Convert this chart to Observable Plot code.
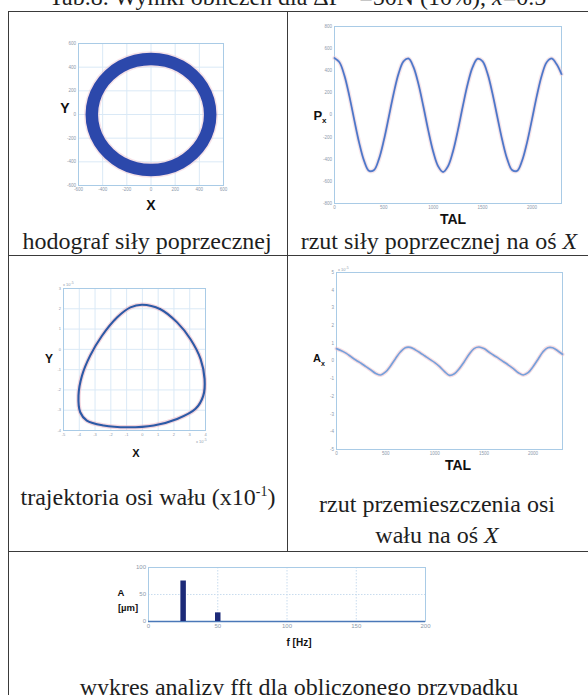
<!DOCTYPE html>
<html><head><meta charset="utf-8">
<script src="https://cdn.jsdelivr.net/npm/d3@7"></script>
<script src="https://cdn.jsdelivr.net/npm/@observablehq/plot@0.6"></script>
<style>
html,body{margin:0;padding:0;background:#fff;}
#page{position:relative;width:588px;height:695px;overflow:hidden;background:#fff;}
.abs{position:absolute;}
.hl{position:absolute;height:1.5px;background:#3a3a3a;}
.vl{position:absolute;width:1.5px;background:#3a3a3a;}
.cap{position:absolute;font-family:"Liberation Serif","Times New Roman",serif;font-size:24px;color:#1e1e1e;white-space:nowrap;transform:translateX(-50%);line-height:1;}
.lab{position:absolute;font-family:"Liberation Sans",Arial,sans-serif;font-weight:bold;color:#111;white-space:nowrap;transform:translate(-50%,-50%);line-height:1;}
.exp{position:absolute;font-family:"Liberation Sans",Arial,sans-serif;font-size:4px;color:#8d99ab;white-space:nowrap;}
</style></head>
<body><div id="page"></div>
<script>
// ---- data ----
// 1. hodograph of transverse force (ring)
const hodoX = [490, 473, 424, 346, 245, 127, 0, -127, -245, -346, -424, -473, -490, -473, -424, -346, -245, -127, 0, 127, 245, 346, 424, 473];
const hodoY = [0, 122, 235, 332, 407, 454, 470, 454, 407, 332, 235, 122, 0, -122, -235, -332, -407, -454, -470, -454, -407, -332, -235, -122];
const hodoTicks = [-600, -400, -200, 0, 200, 400, 600];

// 2. projection of transverse force on X axis
const talP = [0,50,100,150,200,250,300,350,400,450,500,550,600,650,700,750,800,850,900,950,1000,1050,1100,1150,1200,1250,1300,1350,1400,1450,1500,1550,1600,1650,1700,1750,1800,1850,1900,1950,2000,2050,2100,2150,2200,2250,2300];
const px = [515,477,358,173,-44,-252,-415,-505,-498,-399,-229,-18,197,376,486,510,434,282,79,-139,-331,-463,-515,-463,-331,-139,79,282,434,508,486,376,197,-18,-229,-399,-498,-505,-415,-252,-44,173,357,477,510,460,370];
const pxTicksX = [0, 500, 1000, 1500, 2000];
const pxTicksY = [-800, -600, -400, -200, 0, 200, 400, 600, 800];

// 3. shaft axis trajectory
const trajX = [-0.02, 1.14, 2.2, 3.05, 3.69, 3.94, 3.86, 3.37, 2.2, 0.72, -0.97, -2.46, -3.52, -3.94, -4.05, -3.83, -3.31, -2.56, -1.61, -0.76];
const trajY = [2.2, 1.98, 1.33, 0.5, -0.48, -1.46, -2.28, -2.93, -3.43, -3.75, -3.84, -3.75, -3.51, -3.1, -2.28, -1.3, -0.31, 0.67, 1.57, 2.07];
const trajTicksX = [-5, -4, -3, -2, -1, 0, 1, 2, 3, 4];
const trajTicksY = [-4, -3, -2, -1, 0, 1, 2, 3];

// 4. projection of shaft displacement on X axis (x10^-5)
const talA = [0,50,100,150,200,250,300,350,400,450,500,550,600,650,700,750,800,850,900,950,1000,1050,1100,1150,1200,1250,1300,1350,1400,1450,1500,1550,1600,1650,1700,1750,1800,1850,1900,1950,2000,2050,2100,2150,2200,2250,2300];
const ax = [0.70,0.58,0.43,0.23,0.04,-0.13,-0.32,-0.51,-0.70,-0.79,-0.62,-0.28,0.13,0.51,0.75,0.77,0.64,0.47,0.28,0.09,-0.09,-0.32,-0.60,-0.81,-0.72,-0.43,-0.04,0.38,0.70,0.79,0.70,0.51,0.32,0.15,-0.04,-0.23,-0.43,-0.66,-0.79,-0.66,-0.32,0.09,0.51,0.75,0.75,0.58,0.38];
const axTicksY = [-5, -4, -3, -2, -1, 0, 1, 2, 3, 4, 5];

// 5. FFT
const fftF = [25, 50];
const fftA = [75, 16];
const fftTicksX = [0, 50, 100, 150, 200];
const fftTicksY = [0, 50, 100];

// ---- helpers ----
const page = document.getElementById("page");
function place(el, left, top) {
  const d = document.createElement("div");
  d.className = "abs"; d.style.left = left + "px"; d.style.top = top + "px";
  d.appendChild(el); page.appendChild(d);
}
function html(cls, left, top, inner, extra) {
  const d = document.createElement("div");
  d.className = cls; d.style.left = left + "px"; d.style.top = top + "px";
  if (extra) Object.assign(d.style, extra);
  d.innerHTML = inner; page.appendChild(d);
}
const frameC = "#a9cbe6", gridC = "#dae9f6", tickC = "#8d99ab";
const baseStyle = {fontSize: "4.5px", fontFamily: "Liberation Sans, Arial, sans-serif", color: tickC, background: "transparent", overflow: "visible"};
const fmt = d => String(d);
function axes(tx, ty, fs) {
  return [
    Plot.axisX({ticks: tx, tickSize: 0, tickPadding: 2.5, label: null, fontSize: fs, tickFormat: fmt}),
    Plot.axisY({ticks: ty, tickSize: 0, tickPadding: 2.5, label: null, fontSize: fs, tickFormat: fmt})
  ];
}

// ---- chart 1: hodograph ----
place(Plot.plot({
  width: 175, height: 163, marginLeft: 20, marginRight: 10, marginTop: 10, marginBottom: 11,
  style: baseStyle,
  x: {domain: [-600, 600]}, y: {domain: [-600, 600]},
  marks: [
    Plot.gridX(hodoTicks, {stroke: gridC, strokeOpacity: 1}),
    Plot.gridY(hodoTicks, {stroke: gridC, strokeOpacity: 1}),
    Plot.frame({stroke: frameC}),
    ...axes(hodoTicks, hodoTicks, 4.5),
    Plot.line(hodoX, {x: hodoX, y: hodoY, curve: "catmull-rom-closed", stroke: "#e9b7c6", strokeWidth: 15.5, strokeOpacity: 0.4}),
    Plot.line(hodoX, {x: hodoX, y: hodoY, curve: "catmull-rom-closed", stroke: "#2c48ab", strokeWidth: 12.5})
  ]
}), 58, 33);

// ---- chart 2: Px ----
place(Plot.plot({
  width: 252, height: 195, marginLeft: 20, marginRight: 5, marginTop: 8, marginBottom: 10,
  style: baseStyle,
  x: {domain: [0, 2300]}, y: {domain: [-800, 800]},
  marks: [
    Plot.frame({stroke: frameC}),
    ...axes(pxTicksX, pxTicksY, 4.5),
    Plot.line(talP, {x: talP, y: px, curve: "catmull-rom", stroke: "#f0c8d0", strokeWidth: 4.5, strokeOpacity: 0.45}),
    Plot.line(talP, {x: talP, y: px, curve: "catmull-rom", stroke: "#6690d8", strokeWidth: 2}),
    Plot.line(talP, {x: talP, y: px, curve: "catmull-rom", stroke: "#2b46a2", strokeWidth: 0.8, strokeOpacity: 0.55})
  ]
}), 314, 18);

// ---- chart 3: trajectory ----
place(Plot.plot({
  width: 166, height: 162, marginLeft: 18, marginRight: 6, marginTop: 10, marginBottom: 10,
  style: baseStyle,
  x: {domain: [-5, 4]}, y: {domain: [-4, 3]},
  marks: [
    Plot.gridX(trajTicksX, {stroke: gridC, strokeOpacity: 1}),
    Plot.gridY(trajTicksY, {stroke: gridC, strokeOpacity: 1}),
    Plot.frame({stroke: frameC}),
    ...axes(trajTicksX, trajTicksY, 4),
    Plot.line(trajX, {x: trajX, y: trajY, curve: "catmull-rom-closed", stroke: "#eab3c3", strokeWidth: 4.5, strokeOpacity: 0.55}),
    Plot.line(trajX, {x: trajX, y: trajY, curve: "catmull-rom-closed", stroke: "#2c5aa6", strokeWidth: 2.1})
  ]
}), 45, 278);

// ---- chart 4: Ax ----
place(Plot.plot({
  width: 250, height: 197, marginLeft: 20, marginRight: 4, marginTop: 10, marginBottom: 10,
  style: baseStyle,
  x: {domain: [0, 2300]}, y: {domain: [-5, 5]},
  marks: [
    Plot.frame({stroke: frameC}),
    ...axes(pxTicksX, axTicksY, 4.5),
    Plot.line(talA, {x: talA, y: ax, curve: "catmull-rom", stroke: "#efbcc8", strokeWidth: 4, strokeOpacity: 0.5}),
    Plot.line(talA, {x: talA, y: ax, curve: "catmull-rom", stroke: "#76a0da", strokeWidth: 1.7})
  ]
}), 316, 262);

// ---- chart 5: FFT ----
place(Plot.plot({
  width: 302, height: 74, marginLeft: 20, marginRight: 5, marginTop: 10, marginBottom: 10,
  style: {...baseStyle, fontSize: "6px"},
  x: {domain: [0, 200]}, y: {domain: [0, 100]},
  marks: [
    Plot.gridX([50, 100, 150], {stroke: "#c9dcee", strokeOpacity: 1, strokeDasharray: "1.5,1.5"}),
    Plot.gridY([50], {stroke: "#c9dcee", strokeOpacity: 1, strokeDasharray: "1.5,1.5"}),
    Plot.frame({stroke: frameC}),
    ...axes(fftTicksX, fftTicksY, 6),
    Plot.ruleY([0], {stroke: "#4a78b8", strokeWidth: 1.4}),
    Plot.ruleX(fftF, {x: fftF, y1: 0, y2: fftA, stroke: "#1c2a78", strokeWidth: 5.5})
  ]
}), 128, 557);

// ---- table lines ----
html("hl", 8, 10.5, "", {width: "580px"});
html("hl", 8, 254.5, "", {width: "580px"});
html("hl", 8, 550.5, "", {width: "580px"});
html("vl", 7.5, 10.5, "", {height: "690px"});
html("vl", 286.5, 10.5, "", {height: "541px"});

// ---- title (cut off at top) ----
html("cap", 49, -15, "Tab.8. Wyniki obliczeń dla ΔP &nbsp;&nbsp;=50N (10%), <i>x</i>=0.5", {transform: "none"});

// ---- captions ----
html("cap", 147, 229, "hodograf siły poprzecznej");
html("cap", 439, 229, "rzut siły poprzecznej na oś <i>X</i>");
html("cap", 148, 485, "trajektoria osi wału (x10<sup style='font-size:14px;line-height:0'>-1</sup>)");
html("cap", 437, 492, "rzut przemieszczenia osi");
html("cap", 437, 523, "wału na oś <i>X</i>");
html("cap", 299, 675, "wykres analizy fft dla obliczonego przypadku");

// ---- axis labels ----
html("lab", 65, 108, "Y", {fontSize: "14px"});
html("lab", 151, 205, "X", {fontSize: "14px"});
html("lab", 320, 117, "P<sub style='font-size:8px'>x</sub>", {fontSize: "13px"});
html("lab", 453, 219, "TAL", {fontSize: "14px"});
html("lab", 49, 359, "Y", {fontSize: "12px"});
html("lab", 136, 453, "X", {fontSize: "11px"});
html("lab", 319, 360, "A<sub style='font-size:7px'>x</sub>", {fontSize: "11px"});
html("lab", 458, 465, "TAL", {fontSize: "14px"});
html("lab", 121, 593, "A", {fontSize: "9.5px"});
html("lab", 128, 608, "[µm]", {fontSize: "9.5px"});
html("lab", 299, 643, "f [Hz]", {fontSize: "10px"});

// ---- exponent markers ----
html("exp", 63, 281, "x 10<sup>-5</sup>");
html("exp", 196, 438, "x 10<sup>-5</sup>");
html("exp", 338, 266, "x 10<sup>-5</sup>");
</script>
</body></html>
